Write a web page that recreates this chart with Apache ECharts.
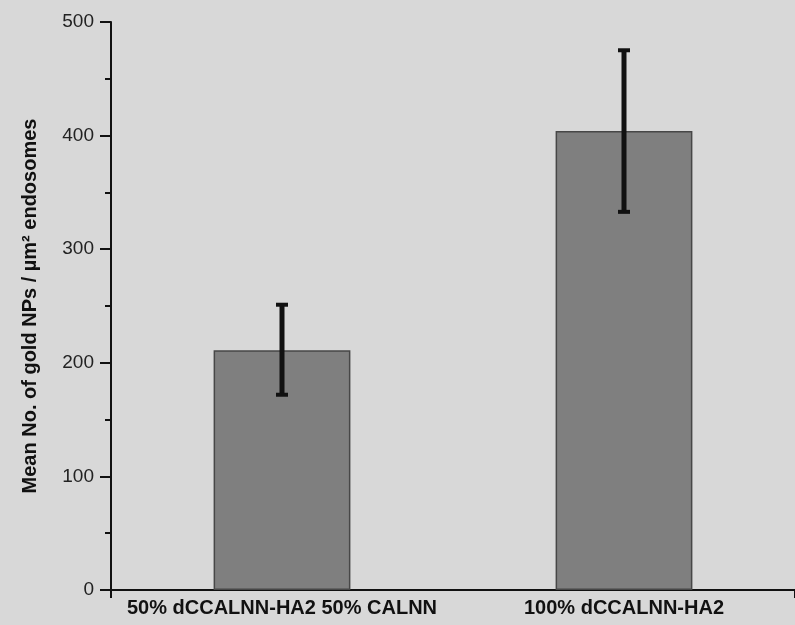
<!DOCTYPE html>
<html>
<head>
<meta charset="utf-8">
<script src="https://cdn.jsdelivr.net/npm/echarts@6/dist/echarts.min.js"></script>
<style>
html,body{margin:0;padding:0;background:#d8d8d8;}
#chart{width:795px;height:625px;}
</style>
</head>
<body>
<div id="chart"></div>
<script>
const categories = ['50% dCCALNN-HA2 50% CALNN', '100% dCCALNN-HA2'];
const means = [211, 404];
const errLow = [171, 332];
const errHigh = [252, 476];
const yTicks = [0, 100, 200, 300, 400, 500];

const chart = echarts.init(document.getElementById('chart'));
const fontFam = '"Liberation Sans", Arial, sans-serif';

chart.setOption({
  backgroundColor: '#d8d8d8',
  animation: false,
  grid: { left: 111, right: 0, top: 22, bottom: 35, containLabel: false },
  xAxis: [
    {
      type: 'category',
      data: categories,
      axisLine: { lineStyle: { color: '#111', width: 2 } },
      axisTick: { alignWithLabel: true, length: 8, lineStyle: { color: '#111', width: 2 } },
      axisLabel: { interval: 0, hideOverlap: false, color: '#111', fontSize: 20, fontWeight: 'bold', fontFamily: fontFam, margin: 8 }
    },
    {
      type: 'category',
      data: categories,
      position: 'bottom',
      axisLine: { show: false },
      axisLabel: { show: false },
      axisTick: { show: true, length: 8, interval: function (i) { return i === 1; }, lineStyle: { color: '#111', width: 2 } }
    }
  ],
  yAxis: {
    type: 'value',
    min: yTicks[0],
    max: yTicks[yTicks.length - 1],
    interval: 100,
    name: 'Mean No. of gold NPs / µm² endosomes',
    nameLocation: 'middle',
    nameGap: 71,
    nameTextStyle: { color: '#111', fontSize: 20, fontWeight: 'bold', fontFamily: fontFam },
    axisLine: { show: true, lineStyle: { color: '#111', width: 2 } },
    axisTick: { show: true, length: 11, lineStyle: { color: '#111', width: 2 } },
    minorTick: { show: true, splitNumber: 2, length: 6, lineStyle: { color: '#111', width: 2 } },
    splitLine: { show: false },
    axisLabel: { color: '#222', fontSize: 19, fontFamily: fontFam, margin: 17 }
  },
  series: [
    {
      type: 'bar',
      data: means,
      barWidth: '40%',
      itemStyle: { color: '#7f7f7f', borderColor: '#474747', borderWidth: 1.5 }
    },
    {
      type: 'custom',
      data: categories.map((c, i) => [i, errLow[i], errHigh[i]]),
      z: 10,
      renderItem: function (params, api) {
        const x = api.value(0);
        const lo = api.coord([x, api.value(1)]);
        const hi = api.coord([x, api.value(2)]);
        const cap = 6;
        const style = { stroke: '#111', lineWidth: 5 };
        return {
          type: 'group',
          children: [
            { type: 'line', shape: { x1: lo[0], y1: lo[1], x2: hi[0], y2: hi[1] }, style: style },
            { type: 'line', shape: { x1: hi[0] - cap, y1: hi[1] + 1, x2: hi[0] + cap, y2: hi[1] + 1 }, style: { stroke: '#111', lineWidth: 4 } },
            { type: 'line', shape: { x1: lo[0] - cap, y1: lo[1] - 1, x2: lo[0] + cap, y2: lo[1] - 1 }, style: { stroke: '#111', lineWidth: 4 } }
          ]
        };
      }
    }
  ]
});
</script>
</body>
</html>
